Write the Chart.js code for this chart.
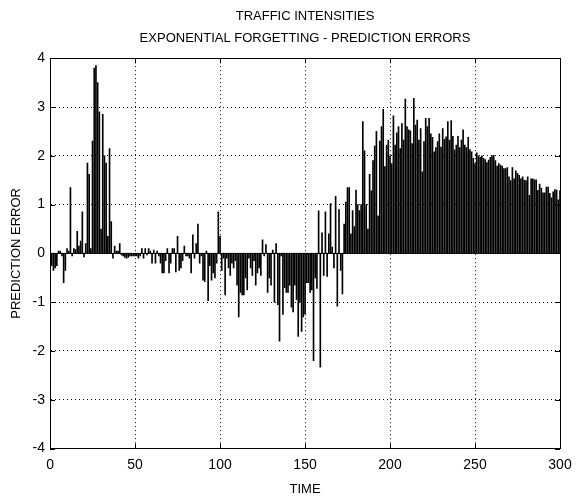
<!DOCTYPE html>
<html>
<head>
<meta charset="utf-8">
<script src="https://cdn.jsdelivr.net/npm/chart.js@4/dist/chart.umd.min.js"></script>
<style>
  html, body { margin: 0; padding: 0; background: #fff; }
  canvas { display: block; }
</style>
</head>
<body>
<canvas id="errorChart" width="577" height="497"></canvas>
<script>
// prediction errors, one value per time step (1..300)
const predictionErrors = [
    -0.25, -0.35, -0.3, -0.25, 0.05, 0.05, -0.05, -0.6, -0.35, 0.1,
    0.05, 1.35, -0.05, 0.1, 0.08, 0.45, 0.15, 0.25, 0.85, -0.07,
    0.2, 1.85, 1.62, 0.1, 2.3, 3.8, 3.85, 3.5, 2.9, 0.5,
    2.85, 2.0, 1.85, 0.35, 2.15, 0.65, -0.1, 0.15, 0.05, 0.05,
    0.2, -0.03, -0.05, -0.08, -0.1, -0.08, -0.05, -0.05, -0.05, -0.05,
    -0.05, -0.1, -0.05, 0.1, -0.1, 0.1, -0.03, 0.1, 0.05, -0.2,
    0.07, -0.2, 0.05, -0.05, -0.2, -0.4, -0.4, -0.15, 0.1, -0.4,
    -0.2, 0.1, 0.1, -0.38, 0.35, -0.35, -0.3, -0.15, 0.15, -0.05,
    -0.05, -0.1, -0.4, 0.38, -0.1, 0.2, 0.6, -0.2, -0.05, -0.55,
    -0.58, 0.05, -0.97, -0.25, -0.55, -0.4, -0.5, -0.2, 0.85, 0.35,
    -0.35, -0.1, -0.85, -0.1, -0.3, -0.45, -0.2, -0.3, -0.15, -0.65,
    -1.3, -0.8, -0.85, -0.85, -0.5, -0.75, -0.1, -0.3, -0.45, -0.15,
    -0.65, -0.4, -0.3, -0.45, 0.28, -0.05, 0.18, -0.8, -0.5, -0.65,
    0.07, -1.0, 0.2, -1.05, -1.8, -0.05, -1.25, -0.7, -0.8, -0.8,
    -0.65, -1.1, -1.2, -0.65, -0.95, -1.7, -1.0, -1.6, -1.3, -1.24,
    -0.6, -0.6, -0.8, -0.75, -2.2, -0.5, -0.72, 0.87, -2.33, 0.42,
    -0.45, 0.85, -0.47, 0.4, 1.02, 0.13, -0.3, 1.17, -1.08, 0.9,
    -0.35, -0.83, 0.6, 1.05, 1.35, 1.35, 0.4, 0.88, 0.55, 1.3,
    1.0, 0.88, 1.0, 2.7, 2.1, 1.0, 0.5, 1.62, 1.28, 1.9,
    2.2, 2.5, 0.77, 2.3, 2.6, 2.95, 1.78, 2.22, 2.32, 2.0,
    1.84, 2.82, 2.22, 2.47, 2.6, 2.15, 2.66, 2.32, 3.16, 2.6,
    2.53, 2.51, 2.25, 3.18, 2.63, 2.73, 2.32, 2.56, 1.67, 2.29,
    2.77, 2.6, 2.77, 2.45, 2.38, 2.08, 2.17, 2.29, 2.45, 2.18,
    2.56, 2.34, 2.39, 2.7, 2.32, 2.72, 2.4, 2.12, 2.22, 2.4,
    2.17, 2.32, 2.53, 2.22, 2.17, 2.38, 2.13, 2.08, 1.95, 1.84,
    2.06, 2.0, 1.97, 2.0, 1.95, 1.92, 1.86, 1.91, 1.97, 2.0,
    2.01, 1.9, 1.79, 1.84, 1.81, 1.79, 1.74, 1.74, 1.76, 1.57,
    1.49, 1.76, 1.53, 1.69, 1.64, 1.6, 1.53, 1.57, 1.5, 1.49,
    1.57, 1.19, 1.53, 1.53, 1.51, 1.51, 1.29, 1.42, 1.34, 1.24,
    1.24, 1.36, 1.36, 1.23, 1.14, 1.26, 1.31, 1.3, 1.1, 1.28
];

const timeTicks = [0, 50, 100, 150, 200, 250, 300];
const errorTicks = [-4, -3, -2, -1, 0, 1, 2, 3, 4];
const baselineTimes = [0, 300];

const titleLines = ['TRAFFIC INTENSITIES', 'EXPONENTIAL FORGETTING - PREDICTION ERRORS'];
const xLabel = 'TIME';
const yLabel = 'PREDICTION ERROR';

const fontFamily = "'Liberation Sans', Arial, Helvetica, sans-serif";

const stems = predictionErrors.map((v, i) => ({ x: i + 1, y: v }));
const baseline = baselineTimes.map(t => ({ x: t, y: 0 }));

// solid box round the axes plus small inward tick marks, like matlab
const axesBox = {
    id: 'axesBox',
    afterDatasetsDraw(chart) {
        const { ctx, chartArea: a, scales: { x, y } } = chart;
        ctx.save();
        ctx.strokeStyle = '#000';
        ctx.lineWidth = 1;
        ctx.beginPath();
        timeTicks.forEach(t => {
            const px = Math.round(x.getPixelForValue(t)) + 0.5;
            ctx.moveTo(px, a.bottom);
            ctx.lineTo(px, a.bottom - 5);
            ctx.moveTo(px, a.top);
            ctx.lineTo(px, a.top + 5);
        });
        errorTicks.forEach(v => {
            const py = Math.round(y.getPixelForValue(v)) + 0.5;
            ctx.moveTo(a.left, py);
            ctx.lineTo(a.left + 5, py);
            ctx.moveTo(a.right, py);
            ctx.lineTo(a.right - 5, py);
        });
        ctx.stroke();
        ctx.strokeRect(Math.round(a.left) + 0.5, Math.round(a.top) + 0.5,
            Math.round(a.right - a.left), Math.round(a.bottom - a.top));
        ctx.restore();
    }
};

const ctx = document.getElementById('errorChart');

new Chart(ctx, {
    data: {
        datasets: [
            {
                type: 'bar',
                data: stems,
                backgroundColor: '#000',
                borderWidth: 0,
                barThickness: 1,
                order: 2
            },
            {
                type: 'line',
                data: baseline,
                borderColor: '#000',
                borderWidth: 1,
                pointRadius: 0,
                order: 1
            }
        ]
    },
    options: {
        responsive: false,
        animation: false,
        layout: {
            padding: { top: 5, right: 17, left: 9, bottom: 0 }
        },
        plugins: {
            legend: { display: false },
            tooltip: { enabled: false },
            title: {
                display: true,
                text: titleLines,
                color: '#000',
                fullSize: false,
                font: { family: fontFamily, size: 13, weight: 'normal', lineHeight: 1.7 },
                padding: { top: 0, bottom: 9 }
            }
        },
        scales: {
            x: {
                type: 'linear',
                min: 0,
                max: 300,
                offset: false,
                afterBuildTicks: scale => { scale.ticks = timeTicks.map(v => ({ value: v })); },
                // let the "300" label hang over the right padding
                afterFit: scale => { scale.paddingRight = 0; },
                ticks: { color: '#000', font: { family: fontFamily, size: 14 }, padding: 8, maxRotation: 0 },
                grid: { color: '#000', drawTicks: false, offset: false },
                border: { display: true, color: '#000', dash: [1, 3] },
                title: { display: true, text: xLabel, color: '#000', font: { family: fontFamily, size: 13 }, padding: { top: 0, bottom: 0 } }
            },
            y: {
                min: -4,
                max: 4,
                afterBuildTicks: scale => { scale.ticks = errorTicks.map(v => ({ value: v })); },
                ticks: { color: '#000', font: { family: fontFamily, size: 14 }, padding: 5 },
                grid: { color: '#000', drawTicks: false },
                border: { display: true, color: '#000', dash: [1, 3] },
                title: { display: true, text: yLabel, color: '#000', font: { family: fontFamily, size: 13 }, padding: { top: 0, bottom: 3 } }
            }
        }
    },
    plugins: [axesBox]
});
</script>
</body>
</html>
